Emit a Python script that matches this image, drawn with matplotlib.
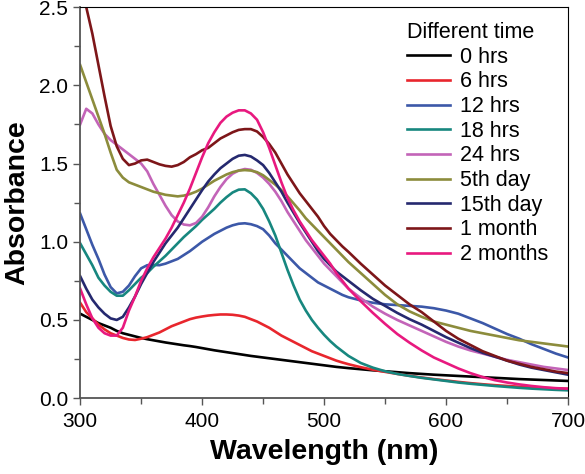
import numpy as np
import matplotlib
matplotlib.use("Agg")
import matplotlib.pyplot as plt
from matplotlib.ticker import MultipleLocator, FormatStrFormatter

plt.rcParams['font.family'] = ['Liberation Sans', 'DejaVu Sans']

################### Datos ###################
# 300-520 nm cada 5 nm, 530-700 nm cada 10 nm
wl = list(range(300, 525, 5)) + list(range(530, 710, 10))

hrs0 = [0.54, 0.52, 0.50, 0.48, 0.465, 0.45, 0.43, 0.415, 0.405, 0.395, 0.385, 0.377, 0.37, 0.363, 0.356,
        0.35, 0.344, 0.338, 0.333, 0.327, 0.32, 0.313, 0.306, 0.30, 0.294, 0.288, 0.282, 0.276, 0.27, 0.265,
        0.26, 0.255, 0.25, 0.245, 0.24, 0.235, 0.23, 0.225, 0.22, 0.215, 0.21, 0.205, 0.20, 0.196, 0.192,
        0.185, 0.178, 0.172, 0.166, 0.16, 0.155, 0.15, 0.146, 0.142, 0.138, 0.134, 0.13, 0.126, 0.122,
        0.119, 0.116, 0.113, 0.11]
hrs6 = [0.61, 0.55, 0.51, 0.47, 0.44, 0.415, 0.40, 0.385, 0.375, 0.372, 0.38, 0.39, 0.405, 0.42, 0.44,
        0.46, 0.475, 0.49, 0.505, 0.515, 0.522, 0.528, 0.532, 0.535, 0.535, 0.533, 0.528, 0.52, 0.505, 0.49,
        0.47, 0.45, 0.425, 0.40, 0.38, 0.36, 0.34, 0.32, 0.30, 0.285, 0.27, 0.255, 0.24, 0.228, 0.217,
        0.198, 0.182, 0.168, 0.155, 0.143, 0.132, 0.122, 0.113, 0.104, 0.096, 0.089, 0.083, 0.078, 0.073,
        0.069, 0.065, 0.062, 0.06]
hrs12 = [1.18, 1.08, 0.98, 0.89, 0.79, 0.71, 0.67, 0.68, 0.72, 0.78, 0.83, 0.85, 0.852, 0.85, 0.86,
         0.875, 0.89, 0.915, 0.94, 0.97, 1.00, 1.025, 1.05, 1.07, 1.09, 1.105, 1.115, 1.118, 1.112, 1.10,
         1.08, 1.04, 0.99, 0.95, 0.91, 0.87, 0.83, 0.80, 0.77, 0.74, 0.72, 0.70, 0.68, 0.66, 0.645,
         0.625, 0.61, 0.60, 0.595, 0.59, 0.585, 0.575, 0.56, 0.54, 0.51, 0.48, 0.445, 0.41, 0.38,
         0.345, 0.315, 0.285, 0.26]
hrs18 = [0.99, 0.92, 0.85, 0.77, 0.72, 0.68, 0.655, 0.655, 0.69, 0.73, 0.77, 0.80, 0.84, 0.875, 0.91,
         0.95, 0.99, 1.03, 1.065, 1.10, 1.14, 1.175, 1.21, 1.25, 1.285, 1.315, 1.333, 1.335, 1.31, 1.27,
         1.21, 1.13, 1.04, 0.93, 0.82, 0.72, 0.63, 0.56, 0.50, 0.45, 0.405, 0.365, 0.33, 0.30, 0.27,
         0.225, 0.195, 0.172, 0.155, 0.142, 0.13, 0.12, 0.11, 0.10, 0.092, 0.085, 0.078, 0.072, 0.066,
         0.061, 0.057, 0.053, 0.05]
hrs24 = [1.75, 1.85, 1.82, 1.75, 1.69, 1.65, 1.62, 1.59, 1.56, 1.53, 1.50, 1.45, 1.37, 1.30, 1.23,
         1.17, 1.13, 1.11, 1.105, 1.12, 1.16, 1.22, 1.29, 1.35, 1.40, 1.435, 1.455, 1.465, 1.46, 1.44,
         1.41, 1.37, 1.32, 1.26, 1.19, 1.13, 1.07, 1.01, 0.96, 0.91, 0.86, 0.82, 0.78, 0.74, 0.70,
         0.64, 0.585, 0.54, 0.50, 0.465, 0.43, 0.395, 0.36, 0.33, 0.305, 0.285, 0.265, 0.245, 0.23,
         0.215, 0.20, 0.19, 0.18]
day5 = [2.13, 2.02, 1.91, 1.80, 1.69, 1.57, 1.46, 1.41, 1.38, 1.365, 1.35, 1.335, 1.32, 1.31, 1.30,
        1.295, 1.29, 1.295, 1.305, 1.32, 1.34, 1.365, 1.39, 1.41, 1.43, 1.445, 1.455, 1.458, 1.455, 1.445,
        1.425, 1.395, 1.365, 1.33, 1.29, 1.245, 1.20, 1.15, 1.11, 1.07, 1.03, 0.99, 0.95, 0.91, 0.87,
        0.80, 0.73, 0.66, 0.60, 0.555, 0.52, 0.49, 0.47, 0.45, 0.43, 0.415, 0.40, 0.385, 0.37,
        0.36, 0.35, 0.34, 0.33]
day15 = [0.78, 0.70, 0.63, 0.58, 0.54, 0.51, 0.50, 0.52, 0.58, 0.65, 0.73, 0.80, 0.87, 0.93, 0.99,
         1.04, 1.09, 1.15, 1.21, 1.27, 1.33, 1.385, 1.43, 1.47, 1.50, 1.53, 1.55, 1.555, 1.545, 1.52,
         1.49, 1.44, 1.38, 1.32, 1.25, 1.185, 1.12, 1.06, 1.00, 0.94, 0.89, 0.85, 0.81, 0.78, 0.75,
         0.69, 0.635, 0.59, 0.545, 0.505, 0.47, 0.43, 0.39, 0.355, 0.32, 0.29, 0.265, 0.24, 0.215,
         0.195, 0.18, 0.165, 0.15]
month1 = [2.85, 2.50, 2.33, 2.13, 1.93, 1.74, 1.61, 1.53, 1.49, 1.50, 1.52, 1.525, 1.51, 1.495, 1.485,
          1.48, 1.49, 1.51, 1.54, 1.56, 1.585, 1.60, 1.63, 1.66, 1.68, 1.70, 1.715, 1.72, 1.72, 1.705,
          1.67, 1.625, 1.57, 1.50, 1.43, 1.37, 1.31, 1.26, 1.21, 1.16, 1.10, 1.05, 1.01, 0.97, 0.935,
          0.86, 0.79, 0.72, 0.66, 0.60, 0.55, 0.49, 0.43, 0.38, 0.34, 0.30, 0.27, 0.24, 0.22,
          0.20, 0.185, 0.17, 0.16]
month2 = [0.70, 0.60, 0.51, 0.45, 0.415, 0.40, 0.40, 0.45, 0.56, 0.65, 0.75, 0.83, 0.90, 0.96, 1.02,
          1.09, 1.17, 1.25, 1.34, 1.44, 1.54, 1.63, 1.70, 1.76, 1.80, 1.825, 1.84, 1.84, 1.82, 1.78,
          1.70, 1.60, 1.49, 1.38, 1.28, 1.20, 1.13, 1.07, 1.01, 0.96, 0.91, 0.86, 0.80, 0.75, 0.70,
          0.62, 0.545, 0.475, 0.41, 0.355, 0.305, 0.26, 0.225, 0.19, 0.16, 0.135, 0.115, 0.10, 0.088,
          0.078, 0.07, 0.064, 0.06]

labels = ["0 hrs", "6 hrs", "12 hrs", "18 hrs", "24 hrs", "5th day", "15th day", "1 month", "2 months"]
series = [hrs0, hrs6, hrs12, hrs18, hrs24, day5, day15, month1, month2]
colors = ["#000000", "#e8262d", "#3c58a8", "#17877f", "#c364b8", "#8c8c3c", "#25296f", "#7d1619", "#e8197f"]

#################### Figura ###################
fig = plt.figure(figsize=(5.85, 4.74), dpi=100)
ax = fig.add_axes([0.137, 0.160, 0.834, 0.825])

for y, lab, c in zip(series, labels, colors):
    ax.plot(wl, y, color=c, lw=1.9, label=lab, solid_joinstyle='round')

ax.set_xlim(300, 700)
ax.set_ylim(0, 2.5)
ax.xaxis.set_major_locator(MultipleLocator(100))
ax.xaxis.set_minor_locator(MultipleLocator(50))
ax.yaxis.set_major_locator(MultipleLocator(0.5))
ax.yaxis.set_minor_locator(MultipleLocator(0.25))
ax.yaxis.set_major_formatter(FormatStrFormatter('%.1f'))
ax.tick_params(which='both', direction='out', labelsize=15, color='#555555', width=1)
ax.tick_params(which='major', length=5)
ax.tick_params(which='minor', length=4)
ax.tick_params(axis='x', pad=5)
for s in ['left', 'bottom']:
    ax.spines[s].set_color('#555555')
    ax.spines[s].set_linewidth(1.3)

ax.set_xlabel("Wavelength (nm)", fontsize=20.5, fontweight='bold', labelpad=6)
ax.set_ylabel("Absorbance", fontsize=20.5, fontweight='bold', labelpad=6)

leg = ax.legend(title="Different time", loc='upper right', bbox_to_anchor=(0.99, 1.0),
                frameon=False, fontsize=15.5, title_fontsize=15.5, handlelength=2.0,
                handletextpad=0.45, labelspacing=0.17, borderaxespad=0.3, alignment='left')

fig.savefig("out.png", dpi=100)
